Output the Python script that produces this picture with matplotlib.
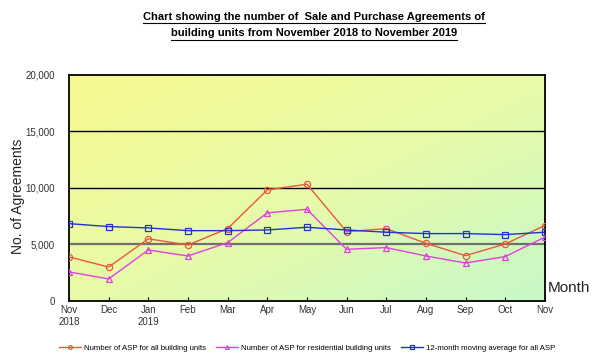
import numpy as np
import matplotlib.pyplot as plt
from matplotlib.colors import LinearSegmentedColormap

plt.rcParams['font.family'] = ['Liberation Sans', 'DejaVu Sans']

months = ["Nov\n2018", "Dec", "Jan\n2019", "Feb", "Mar", "Apr", "May",
          "Jun", "Jul", "Aug", "Sep", "Oct", "Nov"]
asp_all = [3900, 3000, 5500, 4950, 6400, 9820, 10330, 6130, 6400, 5100, 4010, 5040, 6670]
asp_res = [2570, 1950, 4510, 3980, 5160, 7790, 8110, 4570, 4720, 3980, 3360, 3920, 5640]
asp_avg = [6840, 6580, 6460, 6220, 6220, 6280, 6520, 6280, 6080, 5960, 5960, 5870, 6080]
yticks = [0, 5000, 10000, 15000, 20000]

fig = plt.figure(figsize=(6, 3.6), dpi=100)
ax = fig.add_axes([0.115, 0.164, 0.793, 0.628])

x = np.arange(len(months))

# yellow -> light green diagonal background
gx, gy = np.meshgrid(np.linspace(0, 1, 200), np.linspace(1, 0, 200))
g = 0.5 * gx + 0.5 * (1 - gy)
cmap = LinearSegmentedColormap.from_list("bg", ["#f8f890", "#e8fba8", "#c8f8c8"])
ax.imshow(g, cmap=cmap, extent=[0, 12, 0, 20000], aspect='auto', zorder=0)

ax.axhline(5000, color="#707070", lw=1.6, zorder=1)
ax.axhline(10000, color="black", lw=1.0, zorder=1)
ax.axhline(15000, color="black", lw=1.0, zorder=1)

ax.plot(x, asp_all, color="#e8583a", lw=1, marker="o", ms=4.5, mfc="none",
        mew=0.9, label="Number of ASP for all building units", zorder=3)
ax.plot(x, asp_res, color="#e040e0", lw=1, marker="^", ms=4.5, mfc="none",
        mew=0.9, label="Number of ASP for residential building units", zorder=3)
ax.plot(x, asp_avg, color="#2233cc", lw=1, marker="s", ms=4, mfc="none",
        mew=0.9, label="12-month moving average for all ASP", zorder=3)

ax.set_xlim(0, 12)
ax.set_ylim(0, 20000)
ax.set_xticks(x)
ax.set_xticklabels(months, fontsize=7, color="#333333")
ax.set_yticks(yticks)
ax.set_yticklabels([f"{v:,}" for v in yticks], fontsize=7, color="#333333")
ax.tick_params(axis='x', direction='in', length=3, pad=3)
ax.tick_params(axis='y', length=0, pad=10)
for s in ax.spines.values():
    s.set_linewidth(1.3)

fig.text(0.03, 0.455, "No. of Agreements", rotation=90, fontsize=10,
         ha="center", va="center", color="#222222")
fig.text(0.913, 0.2, "Month", fontsize=11, ha="left", va="center", color="#222222")

t1 = fig.text(0.524, 0.952, "Chart showing the number of  Sale and Purchase Agreements of",
              fontsize=8, fontweight="bold", ha="center", va="center")
t2 = fig.text(0.524, 0.907, "building units from November 2018 to November 2019",
              fontsize=8, fontweight="bold", ha="center", va="center")

ax.legend(loc="center", bbox_to_anchor=(0.5, -0.208), ncol=3, frameon=False,
          handlelength=2.8, columnspacing=1.3, handletextpad=0.4,
          markerscale=0.6, prop={'size': 5.6})

# underline the title
fig.canvas.draw()
r = fig.canvas.get_renderer()
inv = fig.transFigure.inverted()
for t in (t1, t2):
    bb = t.get_window_extent(r).transformed(inv)
    fig.add_artist(plt.Line2D([bb.x0, bb.x1], [bb.y0 - 0.003, bb.y0 - 0.003],
                              transform=fig.transFigure, color="black", lw=0.8))

fig.savefig("out.png", dpi=100)
